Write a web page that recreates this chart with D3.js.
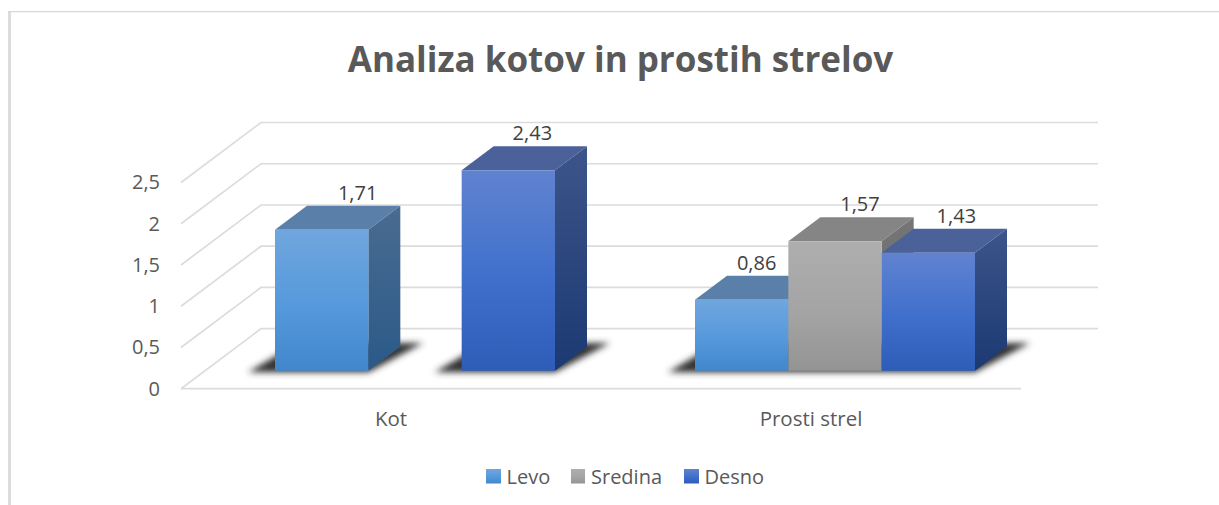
<!DOCTYPE html>
<html>
<head>
<meta charset="utf-8">
<script src="https://cdn.jsdelivr.net/npm/d3@7"></script>
<style>
    html, body { margin: 0; padding: 0; background: #fff; }
    svg { display: block; }
    text { font-family: "Open Sans", sans-serif; }
</style>
</head>
<body>
<div id="chart"></div>
<script>
const categories = ["Kot", "Prosti strel"];
const seriesNames = ["Levo", "Sredina", "Desno"];
const levo = [1.71, 0.86];
const sredina = [null, 1.57];
const desno = [2.43, 1.43];
const yTicks = [0, 0.5, 1, 1.5, 2, 2.5];
const title = "Analiza kotov in prostih strelov";

const seriesValues = [levo, sredina, desno];

const width = 1219, height = 505;

const svg = d3.select("#chart").append("svg")
    .attr("width", width)
    .attr("height", height);

// frame of the chart area, only top and left show in the picture
svg.append("rect").attr("x", 8).attr("y", 11).attr("width", 3).attr("height", height - 11).attr("fill", "#dcdcdc");
svg.append("rect").attr("x", 8).attr("y", 11).attr("width", width - 8).attr("height", 1.3).attr("fill", "#d9d9d9");

svg.append("text")
    .attr("x", 620.5)
    .attr("y", 72)
    .attr("text-anchor", "middle")
    .attr("font-size", 35)
    .attr("font-weight", 700)
    .attr("fill", "#595959")
    .text(title);

// 3d look: the floor runs back by depthX / depthY
const depthX = 80, depthY = 60;
const frontY = 388.7;
const barFront = 0.3, barBack = 0.7;

const x = d3.scaleBand().domain(categories).range([181, 1021]);
const y = d3.scaleLinear().domain([0, 2.5]).range([frontY, frontY - 206.2]);
const inner = d3.scaleBand().domain(seriesNames).range([0, 280]);

const project = (px, py, depth) => [px + depthX * depth, py - depthY * depth];
const poly = (pts) => pts.map((p) => p.join(",")).join(" ");

const defs = svg.append("defs");

const colors = {
    Levo: { front: ["#70a6de", "#5599dc", "#4287cb"], top: "#5a7fa9", side: ["#4a6b91", "#2a5a88"] },
    Sredina: { front: ["#aeaeae", "#a4a4a4", "#949494"], top: "#858585", side: ["#757575", "#6a6a6a"] },
    Desno: { front: ["#6083d0", "#3f6fcc", "#2d5db7"], top: "#4a6199", side: ["#3d5589", "#1b3973"] }
};

seriesNames.forEach((name, i) => {
    let c = colors[name];
    let front = defs.append("linearGradient").attr("id", `front${i}`).attr("x1", 0).attr("y1", 0).attr("x2", 0).attr("y2", 1);
    front.append("stop").attr("offset", "0%").attr("stop-color", c.front[0]);
    front.append("stop").attr("offset", "55%").attr("stop-color", c.front[1]);
    front.append("stop").attr("offset", "100%").attr("stop-color", c.front[2]);
    let side = defs.append("linearGradient").attr("id", `side${i}`).attr("x1", 0).attr("y1", 0).attr("x2", 0).attr("y2", 1);
    side.append("stop").attr("offset", "0%").attr("stop-color", c.side[0]);
    side.append("stop").attr("offset", "100%").attr("stop-color", c.side[1]);
});

defs.append("filter").attr("id", "blur")
    .attr("x", "-20%").attr("y", "-50%").attr("width", "140%").attr("height", "200%")
    .append("feGaussianBlur").attr("stdDeviation", 3.2);

// gridlines, on the left wall and the back wall
const grid = svg.append("g")
    .attr("fill", "none")
    .attr("stroke", "#dcdcdc")
    .attr("stroke-width", 1.7);

grid.selectAll(".wall")
    .data(yTicks)
    .join("polyline")
    .attr("class", "wall")
    .attr("points", (d) => poly([
        [x.range()[0], y(d)],
        project(x.range()[0], y(d), 1),
        project(x.range()[1] - 3, y(d), 1)
    ]));

grid.append("line")
    .attr("x1", x.range()[0]).attr("x2", x.range()[1])
    .attr("y1", y(0)).attr("y2", y(0));

const locale = d3.formatLocale({ decimal: ",", thousands: ".", grouping: [3], currency: ["", ""] });

const yAxis = svg.append("g")
    .attr("transform", "translate(181,0)")
    .call(d3.axisLeft(y).tickValues(yTicks).tickSize(0).tickPadding(21).tickFormat(locale.format("~g")));
yAxis.select(".domain").remove();
yAxis.selectAll("text").attr("font-size", 20).attr("font-family", "\"Open Sans\", sans-serif").attr("fill", "#595959");

const xAxis = svg.append("g")
    .attr("transform", `translate(0,${frontY})`)
    .call(d3.axisBottom(x).tickSize(0).tickPadding(23));
xAxis.select(".domain").remove();
xAxis.selectAll("text").attr("font-size", 20.5).attr("font-family", "\"Open Sans\", sans-serif").attr("fill", "#595959");

// flatten to one list of bars
const bars = [];
categories.forEach((cat, c) => {
    seriesNames.forEach((name, s) => {
        if (seriesValues[s][c] !== null) bars.push({ cat: cat, name: name, s: s, value: seriesValues[s][c] });
    });
});

const barLeft = (d) => x(d.cat) + x.bandwidth() / 2 - 140 + inner(d.name);

// floor shadows, one for each run of touching bars
const shadows = [];
bars.forEach((b, i) => {
    let prev = bars[i - 1];
    if (prev && prev.cat === b.cat && prev.s === b.s - 1) {
        shadows[shadows.length - 1].x1 = barLeft(b) + inner.bandwidth();
    } else {
        shadows.push({ x0: barLeft(b), x1: barLeft(b) + inner.bandwidth() });
    }
});

const shadowY = y(0);
svg.append("g").selectAll("polygon")
    .data(shadows)
    .join("polygon")
    .attr("points", (d) => poly([
        project(d.x0 - 27, shadowY + 1.5, barFront),
        project(d.x1, shadowY + 1.5, barFront),
        project(d.x1 + 18, shadowY, barBack + 0.06),
        project(d.x0 - 14, shadowY, barBack + 0.06)
    ]))
    .attr("fill", "#333333")
    .attr("filter", "url(#blur)");

const barG = svg.append("g").selectAll("g")
    .data(bars)
    .join("g");

barG.append("polygon")
    .attr("points", (d) => {
        let l = barLeft(d), r = l + inner.bandwidth(), t = y(d.value);
        return poly([project(l, t, barFront), project(r, t, barFront), project(r, t, barBack), project(l, t, barBack)]);
    })
    .attr("fill", (d) => colors[d.name].top);

barG.append("polygon")
    .attr("points", (d) => {
        let r = barLeft(d) + inner.bandwidth(), t = y(d.value), b = y(0);
        return poly([project(r, t, barFront), project(r, t, barBack), project(r, b, barBack), project(r, b, barFront)]);
    })
    .attr("fill", (d) => `url(#side${d.s})`);

barG.append("polygon")
    .attr("points", (d) => {
        let l = barLeft(d), r = l + inner.bandwidth(), t = y(d.value), b = y(0);
        return poly([project(l, t, barFront), project(r, t, barFront), project(r, b, barFront), project(l, b, barFront)]);
    })
    .attr("fill", (d) => `url(#front${d.s})`);

// hand placed in the original, labels sit a bit right of the front face
const labelShift = { "Kot Levo": 36, "Kot Desno": 24, "Prosti strel Levo": 15, "Prosti strel Sredina": 25, "Prosti strel Desno": 28 };

barG.append("text")
    .attr("x", (d) => project(barLeft(d) + inner.bandwidth() / 2 + labelShift[`${d.cat} ${d.name}`], y(d.value), barFront)[0])
    .attr("y", (d) => project(0, y(d.value), barFront)[1] - 30)
    .attr("text-anchor", "middle")
    .attr("font-size", 20)
    .attr("fill", "#404040")
    .text((d) => locale.format(".2f")(d.value));

// legend
const legendX = [486, 571, 684];
const legend = svg.append("g").selectAll("g")
    .data(seriesNames)
    .join("g")
    .attr("transform", (d, i) => `translate(${legendX[i]},469)`);

legend.append("rect")
    .attr("width", (d, i) => i === 1 ? 14 : 15)
    .attr("height", 14.5)
    .attr("fill", (d, i) => `url(#front${i})`);

legend.append("text")
    .attr("x", (d, i) => i === 1 ? 20 : 20.5)
    .attr("y", 15)
    .attr("font-size", 20)
    .attr("fill", "#595959")
    .text((d) => d);
</script>
</body>
</html>
